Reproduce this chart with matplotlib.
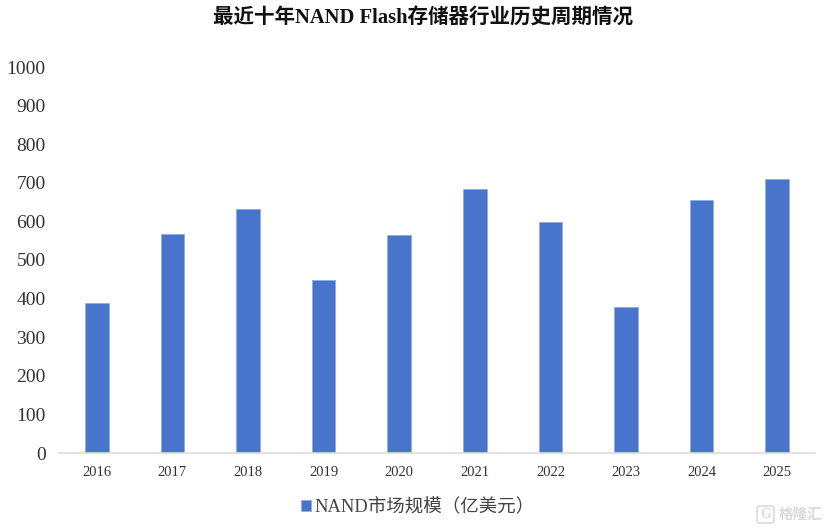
import matplotlib
matplotlib.use("Agg")
import matplotlib.pyplot as plt
from matplotlib.patches import FancyBboxPatch

years = ['2016','2017','2018','2019','2020','2021','2022','2023','2024','2025']
values = [389, 568, 632, 449, 566, 685, 599, 379, 655, 711]
yticks = [0,100,200,300,400,500,600,700,800,900,1000]
title = '最近十年NAND Flash存储器行业历史周期情况'
series_name = 'NAND市场规模（亿美元）'
watermark = '格隆汇'
FONTS = ['Liberation Serif', 'Noto Sans CJK SC', 'DejaVu Sans']
plt.rcParams['font.family'] = FONTS

W, H = 830, 531
fig = plt.figure(figsize=(W/100, H/100), dpi=100, facecolor='white')
ax = fig.add_axes([59/W, 1-453/H, (815-59)/W, (453-67)/H])
ax.bar(range(len(years)), values, width=0.31, color='#4874CB', edgecolor='#8FAEE6', linewidth=0.6,
       label=series_name)
ax.set_xlim(-0.5, 9.5)
ax.set_ylim(0, 1000)
ax.set_yticks(yticks)
ax.set_xticks(range(len(years)))
ax.set_xticklabels(years)
ax.tick_params(axis='y', length=0, labelsize=14, pad=9.5, labelcolor='#333333')
ax.tick_params(axis='x', length=0, labelsize=10.5, pad=9, labelcolor='#333333')
for s in ['top','right','left']:
    ax.spines[s].set_visible(False)
ax.spines['bottom'].set_color('#DDDDDD')
ax.spines['bottom'].set_linewidth(1.2)

fig.text(423/W, 1-19/H, title, ha='center', va='center', fontsize=14.8, fontweight='bold', color='#111111')
leg = fig.legend(loc='center', bbox_to_anchor=(418/W, 1-507/H), frameon=False, fontsize=13.3,
                 handlelength=0.5, handleheight=0.5, handletextpad=0.2, labelcolor='#444444')
fig.text(801/W, 1-515/H, watermark, ha='center', va='center', fontsize=10.5, fontweight='bold',
         color='#DADADA')
fig.add_artist(FancyBboxPatch((757/W, 1-523/H), 17/W, 17/H, transform=fig.transFigure,
                              boxstyle='round,pad=0,rounding_size=0.004', fc='none', ec='#DADADA', lw=1.2))
fig.text(765.5/W, 1-514.5/H, 'G', ha='center', va='center', fontsize=10, fontweight='bold', color='#DADADA')
fig.savefig('out.png', dpi=100)
